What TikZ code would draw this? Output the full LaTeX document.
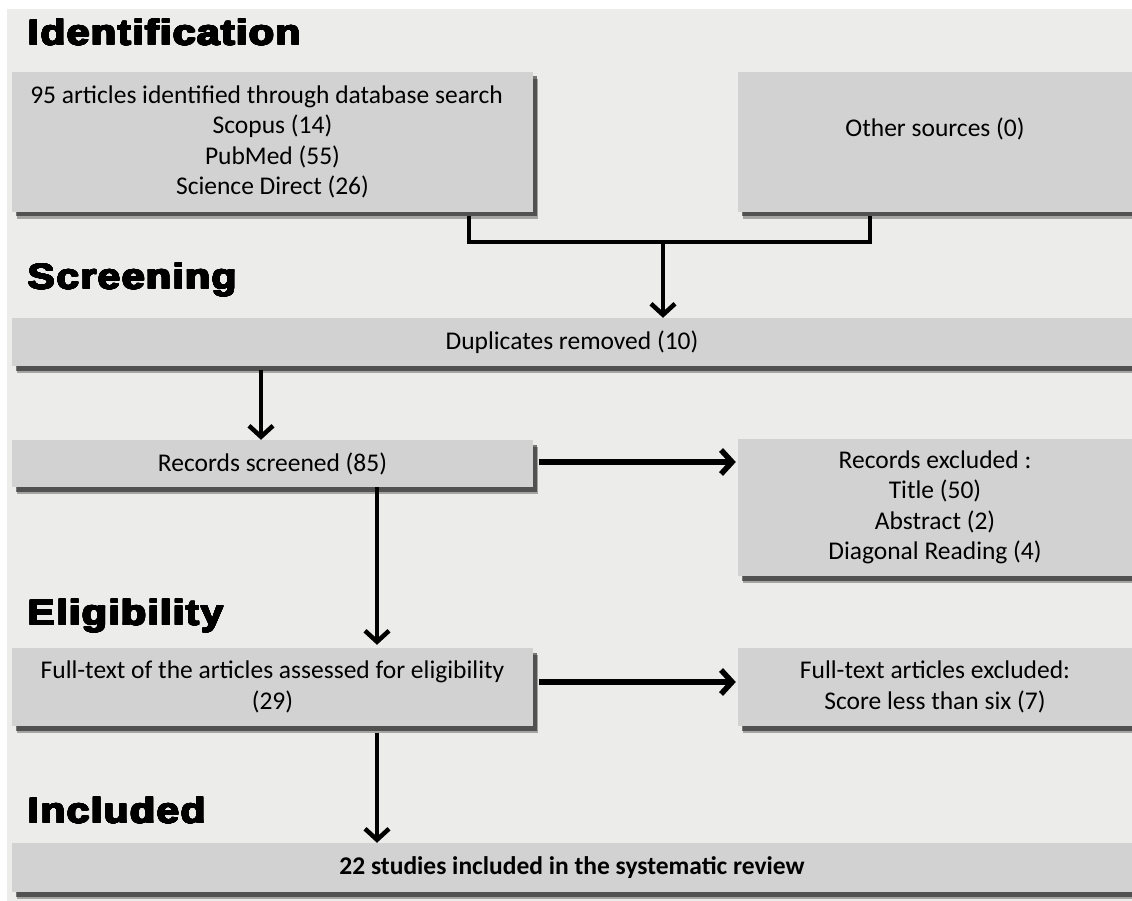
\documentclass[tikz,border=0pt]{standalone}
\usepackage{fontspec}
\usepackage{contour}
\contourlength{0.7pt}
\contournumber{24}
\setmainfont{Carlito}
\newfontfamily\titlefont[FakeStretch=1.15,LetterSpace=4]{Liberation Sans}
\usetikzlibrary{arrows.meta,shadows}
\definecolor{bgcol}{RGB}{236,236,234}
\definecolor{boxcol}{RGB}{210,210,210}
\newcommand{\phasetext}[1]{\contour{black}{#1}}
\tikzset{
  box/.style={fill=boxcol, draw=none, inner sep=0pt, align=center,
    font=\fontsize{25.5}{30.5}\selectfont,
    drop shadow={shadow xshift=5pt, shadow yshift=-7pt, fill=black, opacity=.3},
    drop shadow={shadow xshift=3.5pt, shadow yshift=-4.5pt, fill=black, opacity=.5}},
  phase/.style={anchor=base west, inner sep=0pt, font=\titlefont\bfseries\fontsize{35.5}{40}\selectfont},
  conn/.style={line width=4.5pt, black},
  arr/.style={conn, -{Straight Barb[length=11pt,width=24pt]}},
}
\begin{document}
\begin{tikzpicture}[x=1pt,y=-1pt]
\useasboundingbox (0,0) rectangle (1132,901);
\fill[white] (0,0) rectangle (1132,901);
\fill[bgcol] (7,9) rectangle (1132,901);

\node[phase] (tid) at (28,45) {\phasetext{Identification}};
\node[phase] (tsc) at (28,289) {\phasetext{Screening}};
\node[phase] (tel) at (28,625) {\phasetext{Eligibility}};
\node[phase] (tin) at (28,823) {\phasetext{Included}};

\node[box, minimum width=521pt, minimum height=140pt] (b1) at (272.5,142)
  {\hspace*{-12pt}95 articles identified through database search\\Scopus (14)\\PubMed (55)\\Science Direct (26)};
\node[box, minimum width=394pt, minimum height=140pt] (b2) at (935,142)
  {Other sources (0)\\\mbox{}};
\node[box, minimum width=1120pt, minimum height=48pt] (dup) at (572,342)
  {Duplicates removed (10)};
\node[box, minimum width=521pt, minimum height=47pt] (rec) at (272.5,463.5)
  {Records screened (85)};
\node[box, minimum width=394pt, minimum height=137pt] (exc) at (935,507.5)
  {Records excluded :\\Title (50)\\Abstract (2)\\Diagonal Reading (4)};
\node[box, minimum width=521pt, minimum height=78pt] (full) at (272.5,687)
  {Full-text of the articles assessed for eligibility\\(29)};
\node[box, minimum width=394pt, minimum height=78pt] (fexc) at (935,687)
  {Full-text articles excluded:\\Score less than six (7)};
\node[box, minimum width=1120pt, minimum height=49pt] (incl) at (572,867.5)
  {\bfseries 22 studies included in the systematic review};

\coordinate (j1) at (469,242);
\coordinate (j2) at (870,242);
\coordinate (j) at (663,242);
\coordinate (c1) at (261,0);
\coordinate (c2) at (377,0);

\draw[conn, line join=miter] (b1.south -| j1) ++(0,4) -- (j1) -- (j2) -- ([yshift=-4pt]b2.south -| j2);
\draw[arr] (j) -- (dup.north -| j);
\draw[arr, shorten <=4pt] (dup.south -| c1) -- (rec.north -| c1);
\draw[arr, shorten >=3pt] (rec.south -| c2) -- (full.north -| c2);
\draw[arr, shorten <=7pt] (full.south -| c2) -- (incl.north -| c2);
\draw[arr, line width=5.5pt, shorten <=6pt, shorten >=2pt] ([yshift=1.5pt]rec.east) -- ([yshift=1.5pt]rec.east -| exc.west);
\draw[arr, line width=5.5pt, shorten <=6pt, shorten >=2pt] ([yshift=5pt]full.east) -- ([yshift=5pt]fexc.west);
\end{tikzpicture}
\end{document}
